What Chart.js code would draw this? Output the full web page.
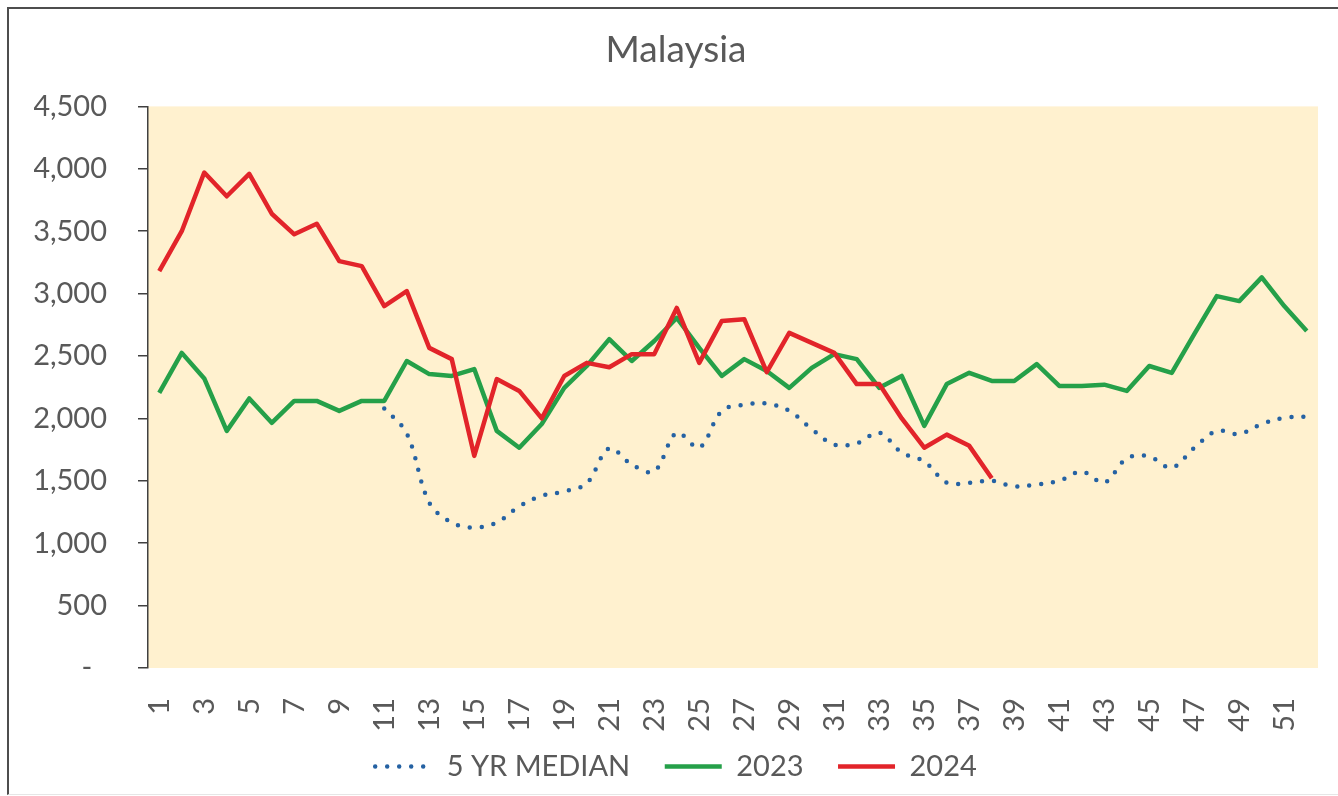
<!DOCTYPE html>
<html>
<head>
<meta charset="utf-8">
<script src="https://cdn.jsdelivr.net/npm/chart.js@4.4.1/dist/chart.umd.min.js"></script>
<style>
  body { margin: 0; background: #fff; }
  #wrap { position: relative; width: 1338px; height: 796px; overflow: hidden; }
  #frame { position: absolute; left: 7px; top: 7px; width: 1340px; height: 785px;
           border-left: 2px solid #4d4d4d; border-top: 2px solid #4d4d4d; border-bottom: 1px solid #e6e6e6; }
  canvas { position: absolute; left: 0; top: 0; }
</style>
</head>
<body>
<div id="wrap">
  <div id="frame"></div>
  <canvas id="chart" width="1338" height="796"></canvas>
</div>
<script>
// week numbers 1..52
const weeks = ['1','2','3','4','5','6','7','8','9','10','11','12','13','14','15','16','17','18','19','20',
  '21','22','23','24','25','26','27','28','29','30','31','32','33','34','35','36','37','38','39','40',
  '41','42','43','44','45','46','47','48','49','50','51','52'];

const yTicks = [0, 500, 1000, 1500, 2000, 2500, 3000, 3500, 4000, 4500];

// 5 year median (starts at week 11)
const median5yr = [null, null, null, null, null, null, null, null, null, null,
  2080, 1880, 1325, 1165, 1125, 1165, 1295, 1380, 1415, 1480,
  1760, 1630, 1575, 1885, 1765, 2060, 2110, 2120, 2060, 1915,
  1790, 1800, 1885, 1725, 1655, 1485, 1485, 1500, 1455, 1470,
  1500, 1575, 1485, 1680, 1695, 1605, 1765, 1900, 1875, 1955,
  2005, 2015];

const y2023 = [2205, 2525, 2320, 1900, 2160, 1965, 2140, 2140, 2060, 2140,
  2140, 2460, 2355, 2340, 2395, 1900, 1765, 1955, 2245, 2420,
  2635, 2460, 2620, 2805, 2565, 2340, 2475, 2380, 2245, 2405,
  2515, 2475, 2245, 2340, 1940, 2275, 2365, 2300, 2300, 2435,
  2260, 2260, 2270, 2220, 2420, 2365, 2675, 2980, 2940, 3130,
  2900, 2700];

const y2024 = [3180, 3500, 3970, 3780, 3960, 3640, 3475, 3560, 3260, 3220,
  2900, 3020, 2565, 2475, 1700, 2315, 2220, 2000, 2340, 2445,
  2410, 2515, 2515, 2885, 2445, 2780, 2795, 2370, 2685, 2605,
  2525, 2275, 2275, 2000, 1765, 1870, 1780, 1520];

const FONT = 'Lato, "Open Sans", sans-serif';
const GREY = '#595959';

// cream plot background
const plotBg = {
  id: 'plotBg',
  beforeDraw(chart) {
    const {ctx, chartArea: a} = chart;
    ctx.save();
    ctx.fillStyle = '#fff1cf';
    ctx.fillRect(a.left, a.top, a.right - a.left, a.bottom - a.top);
    ctx.restore();
  }
};

new Chart(document.getElementById('chart'), {
  type: 'line',
  data: {
    labels: weeks,
    datasets: [
      {label: '5 YR MEDIAN', data: median5yr, borderColor: '#2562a3', borderWidth: 4.5,
       borderDash: [0, 12], borderCapStyle: 'round', tension: 0.35, order: 3},
      {label: '2023', data: y2023, borderColor: '#25a049', borderWidth: 4.5, tension: 0, order: 2},
      {label: '2024', data: y2024, borderColor: '#e2242a', borderWidth: 4.5, tension: 0, order: 1}
    ]
  },
  options: {
    responsive: false,
    animation: false,
    elements: { point: { radius: 0 }, line: { borderJoinStyle: 'round' } },
    layout: { padding: { left: 34, right: 20, top: 0, bottom: 5 } },
    plugins: {
      tooltip: { enabled: false },
      title: {
        display: true, text: 'Malaysia', color: GREY,
        font: { family: FONT, size: 37, weight: 'normal' },
        padding: { top: 28, bottom: 34 }
      },
      legend: {
        position: 'bottom',
        labels: {
          font: { family: FONT, size: 29 }, color: GREY, padding: 20,
          usePointStyle: true, pointStyleWidth: 57,
          generateLabels: chart => chart.data.datasets.map((d, i, all) => ({
            text: d.label + (i < all.length - 1 ? '\u2002' : ''), datasetIndex: i, hidden: false,
            strokeStyle: d.borderColor, fillStyle: d.borderColor,
            lineWidth: d.borderWidth, lineDash: d.borderDash || [],
            lineCap: d.borderCapStyle || 'butt', pointStyle: 'line', fontColor: GREY
          }))
        }
      }
    },
    scales: {
      x: {
        offset: true,
        grid: { display: false, offset: true },
        border: { display: false },
        ticks: {
          autoSkip: false, minRotation: 90, maxRotation: 90, padding: 22,
          color: GREY, font: { family: FONT, size: 29 },
          callback: (v, i) => (i % 2 === 0 ? weeks[i] : '')
        },
        afterFit: s => { s.height = 64; s.paddingLeft = 0; s.paddingRight = 0; }
      },
      y: {
        min: 0, max: 4500,
        afterBuildTicks: s => { s.ticks = yTicks.map(v => ({value: v})); },
        grid: { drawOnChartArea: false, drawTicks: true, tickLength: 10, color: '#404040', lineWidth: 1.5 },
        border: { color: '#404040', width: 1.5 },
        ticks: {
          padding: 31, color: GREY, font: { family: FONT, size: 29 },
          callback: v => (v === 0 ? '-  ' : v.toLocaleString('en-US'))
        },
        afterFit: s => { s.width = 114; }
      }
    }
  },
  plugins: [plotBg]
});
</script>
</body>
</html>
